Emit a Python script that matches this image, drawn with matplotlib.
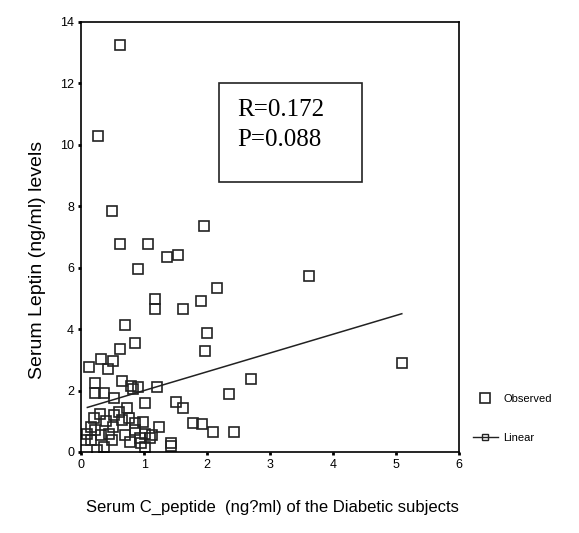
import matplotlib.pyplot as plt
from matplotlib.lines import Line2D

plt.rcParams['font.family'] = ['Liberation Sans', 'DejaVu Sans']

# observed points (C-peptide ng/ml, leptin ng/ml)
c_peptide = [0.62, 0.27, 0.49, 0.62, 1.06, 1.95, 1.37, 1.54, 0.90, 3.62,
             2.16, 1.17, 1.17, 1.91, 1.61, 0.69, 0.85, 0.62, 2.00, 1.97,
             0.13, 0.32, 0.50, 0.43, 0.65, 0.22, 0.22, 0.36, 0.90, 0.82,
             1.21, 2.70, 2.34, 5.10, 1.02, 1.51, 1.61, 1.77, 1.92, 2.10,
             2.43, 1.43, 1.43, 1.24, 0.52, 0.73, 0.76, 0.52, 0.20, 0.22,
             0.07, 0.15, 0.25, 0.36, 0.49, 0.44, 0.70, 0.78, 0.94, 1.02,
             1.02, 0.99, 1.13, 0.86, 0.31, 0.51, 0.65, 0.86, 0.15, 0.10,
             0.80, 0.60, 0.40, 0.30, 1.10, 0.95]
leptin = [13.26, 10.28, 7.85, 6.77, 6.77, 7.34, 6.35, 6.42, 5.95, 5.73,
          5.35, 4.99, 4.64, 4.91, 4.64, 4.14, 3.55, 3.36, 3.88, 3.30,
          2.76, 3.02, 2.97, 2.70, 2.31, 2.26, 1.93, 1.93, 2.10, 2.04,
          2.13, 2.37, 1.88, 2.91, 1.60, 1.64, 1.42, 0.93, 0.90, 0.64,
          0.64, 0.29, 0.20, 0.82, 1.75, 1.42, 1.09, 1.20, 1.09, 0.71,
          0.38, 0.80, 0.05, 0.16, 0.38, 0.60, 0.55, 0.33, 0.44, 0.60,
          0.16, 0.98, 0.55, 0.71, 0.55, 0.82, 1.04, 0.93, 0.38, 0.60,
          2.15, 1.30, 1.00, 1.25, 0.45, 0.30]

# linear fit line as drawn
fit_x = [0.10, 5.09]
fit_y = [1.45, 4.50]

fig = plt.figure(figsize=(5.79, 5.33), dpi=100)
ax = fig.add_axes([0.14, 0.152, 0.653, 0.807])

ax.plot(c_peptide, leptin, linestyle='none', marker='s', markersize=7.5,
        markerfacecolor='none', markeredgecolor='#222222', markeredgewidth=1.2)
ax.plot(fit_x, fit_y, color='#222222', linewidth=1.1)

ax.set_xlim(0, 6)
ax.set_ylim(0, 14)
ax.set_xticks(range(0, 7))
ax.set_yticks(range(0, 15, 2))
ax.tick_params(direction='out', length=2, width=2, labelsize=9, pad=3)
for s in ax.spines.values():
    s.set_linewidth(1.2)

fig.text(38 / 579, 1 - 260 / 533, 'Serum Leptin (ng/ml) levels', fontsize=14,
         rotation=90, ha='center', va='center')
fig.text(272 / 579, 1 - 507 / 533, 'Serum C_peptide  (ng?ml) of the Diabetic subjects',
         fontsize=12, ha='center', va='center')

ax.text(0.413, 0.76, 'R=0.172\nP=0.088', transform=ax.transAxes,
        fontsize=18, family='Liberation Serif', va='center', ha='left',
        linespacing=1.5)
box = plt.Rectangle((0.365, 0.628), 0.378, 0.23, transform=ax.transAxes,
                    fill=False, edgecolor='#222222', linewidth=1.2)
ax.add_patch(box)

handles = [Line2D([], [], linestyle='none', marker='s', markersize=7.5,
                  markerfacecolor='none', markeredgecolor='#222222', markeredgewidth=1.2),
           Line2D([], [], color='#222222', linewidth=1.0, marker='s', markersize=4,
                  markerfacecolor='none', markeredgecolor='#222222')]
fig.legend(handles, ['Observed', 'Linear'], loc='center left',
           bbox_to_anchor=(0.8, 0.215), frameon=False, fontsize=8,
           handlelength=2.2, handletextpad=0.5, labelspacing=2.6)

fig.savefig('out.png', dpi=100, facecolor='white')
